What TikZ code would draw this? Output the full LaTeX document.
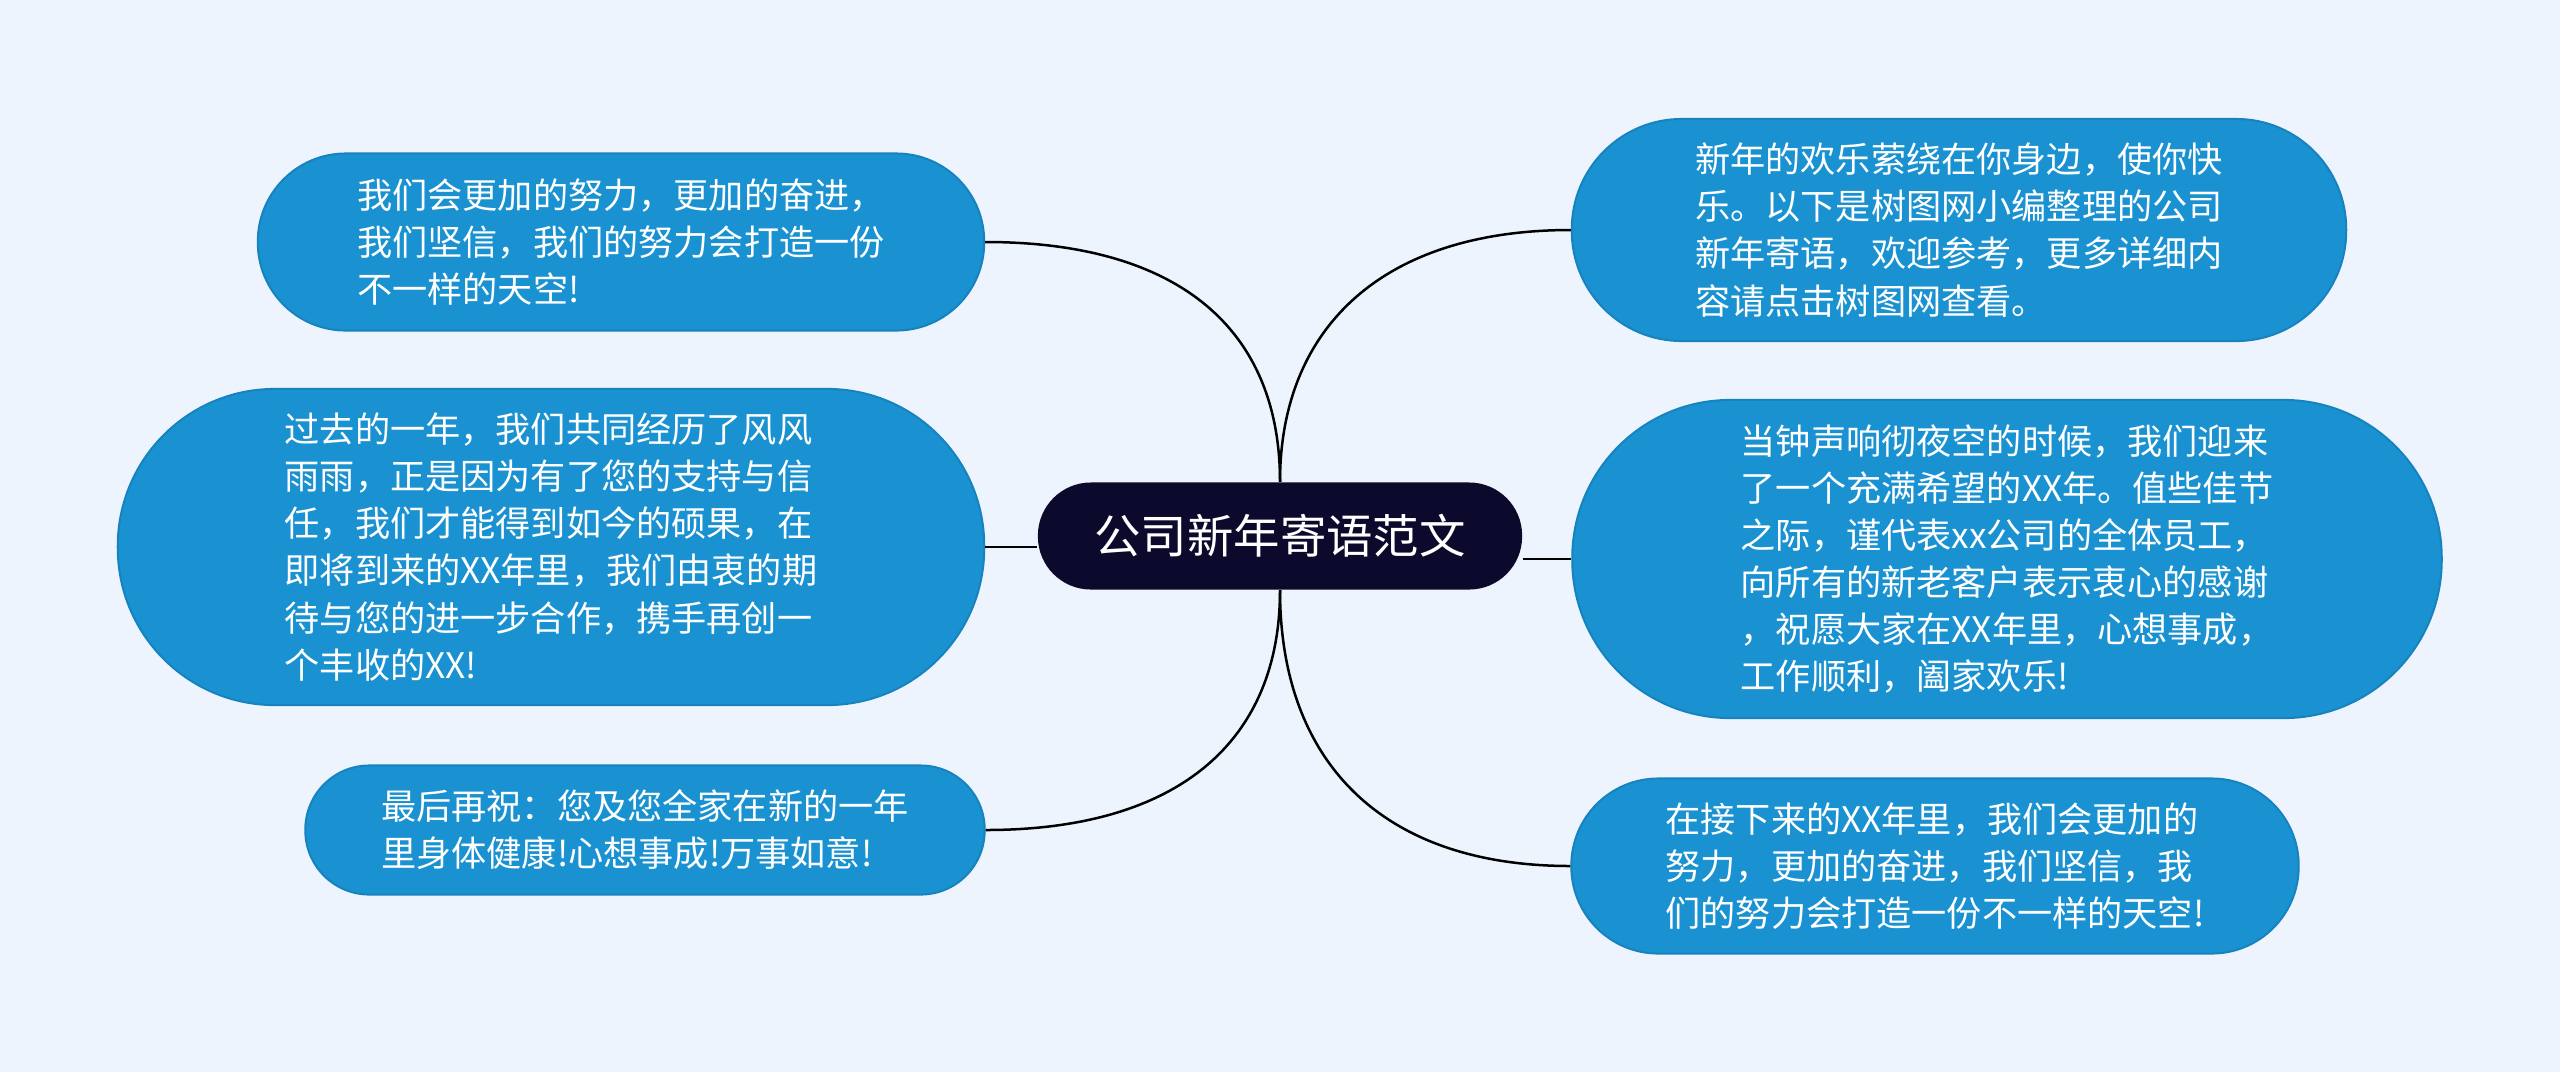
\documentclass[tikz,border=0pt]{standalone}
\usepackage{fontspec}
\setmainfont{Noto Sans CJK SC}
\definecolor{bg}{HTML}{EEF4FE}
\definecolor{bfill}{HTML}{1A92D1}
\definecolor{bedge}{HTML}{1783BE}
\definecolor{cfill}{HTML}{0B0A2C}
\begin{document}
\begin{tikzpicture}[x=0.01cm,y=-0.01cm,
  branch/.style={fill=bfill, draw=bedge, line width=0.02cm, text=white, align=left, inner sep=0pt, font=\fontsize{10pt}{13.4pt}\selectfont},
  link/.style={draw=black, line width=0.025cm}]
\fill[bg] (0,0) rectangle (2560,1072);
\useasboundingbox (0,0) rectangle (2560,1072);

\node[fill=cfill, text=white, inner sep=0pt, minimum width=4.84cm, minimum height=1.07cm, rounded corners=0.53cm, font=\fontsize{13.2pt}{16pt}\selectfont] (C) at (1280,536) {公司新年寄语范文};

\node[branch, minimum width=7.26cm, minimum height=1.77cm, rounded corners=0.88cm] (L1) at (621,242)
  {我们会更加的努力，更加的奋进，\\我们坚信，我们的努力会打造一份\\不一样的天空!};
\node[branch, minimum width=8.66cm, minimum height=3.16cm, rounded corners=1.57cm] (L2) at (551,547)
  {过去的一年，我们共同经历了风风\\雨雨，正是因为有了您的支持与信\\任，我们才能得到如今的硕果，在\\即将到来的XX年里，我们由衷的期\\待与您的进一步合作，携手再创一\\个丰收的XX!};
\node[branch, minimum width=6.79cm, minimum height=1.29cm, rounded corners=0.64cm] (L3) at (645,830)
  {最后再祝：您及您全家在新的一年\\里身体健康!心想事成!万事如意!};
\node[branch, minimum width=7.74cm, minimum height=2.22cm, rounded corners=1.10cm] (R1) at (1959,230)
  {新年的欢乐萦绕在你身边，使你快\\乐。以下是树图网小编整理的公司\\新年寄语，欢迎参考，更多详细内\\容请点击树图网查看。};
\node[branch, minimum width=8.69cm, minimum height=3.18cm, rounded corners=1.58cm] (R2) at (2007,559)
  {当钟声响彻夜空的时候，我们迎来\\了一个充满希望的XX年。值些佳节\\之际，谨代表xx公司的全体员工，\\向所有的新老客户表示衷心的感谢\\，祝愿大家在XX年里，心想事成，\\工作顺利，阖家欢乐!};
\node[branch, minimum width=7.27cm, minimum height=1.75cm, rounded corners=0.87cm] (R3) at (1935,866)
  {在接下来的XX年里，我们会更加的\\努力，更加的奋进，我们坚信，我\\们的努力会打造一份不一样的天空!};

\draw[link] (C.north) .. controls (1280,330) and (1180,242) .. (L1.east);
\draw[link] (C.north) .. controls (1280,330) and (1380,230) .. (R1.west);
\draw[link] (C.south) .. controls (1280,740) and (1180,830) .. (L3.east);
\draw[link] (C.south) .. controls (1280,760) and (1380,866) .. (R3.west);
\draw[link] (L2.east) -- (L2.east -| C.west);
\draw[link] (R2.west) -- (R2.west -| C.east);
\end{tikzpicture}
\end{document}
